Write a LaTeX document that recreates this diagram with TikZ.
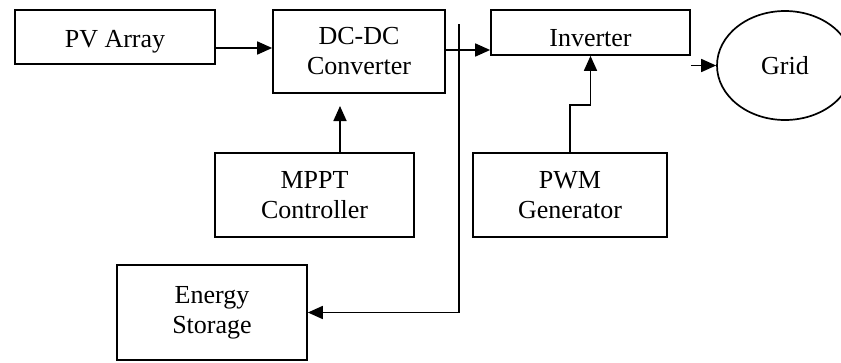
\documentclass[tikz,border=0pt]{standalone}
\usepackage{fontspec}
\setmainfont{Liberation Serif}
\usetikzlibrary{arrows.meta,shapes.geometric}
\begin{document}
\begin{tikzpicture}[x=1pt,y=-1pt,
  every node/.style={font=\fontsize{26}{30}\selectfont},
  blk/.style={draw, line width=1.7pt, inner sep=0pt, align=center, fill=white},
  conn/.style={line width=1.7pt, -{Triangle[length=15pt,width=13pt]}}]
\useasboundingbox (0,0) rectangle (841,362);
\clip (0,0) rectangle (841,362);
\fill[white] (0,0) rectangle (841,362);

\node[blk, minimum width=200pt, minimum height=54pt, text height=20pt, text depth=0pt] (pv) at (115,37) {PV Array};
\node[blk, minimum width=172pt, minimum height=83pt] (dc) at (359,51.5) {DC-DC\\Converter};
\node[blk, minimum width=199pt, minimum height=45pt, text height=27pt, text depth=0pt] (inv) at (590.5,32.5) {Inverter};
\node[draw, line width=1.7pt, ellipse, minimum width=136pt, minimum height=109pt, inner sep=0pt] (grid) at (785,65.5) {Grid};
\node[blk, minimum width=199pt, minimum height=84pt] (mppt) at (314.5,195) {MPPT\\Controller};
\node[blk, minimum width=194pt, minimum height=84pt] (pwm) at (570,195) {PWM\\Generator};
\node[blk, minimum width=190pt, minimum height=95pt] (es) at (212,312.5) {Energy\\Storage};

\coordinate (bus) at (459,24);

\draw[conn] (pv.east |- 0,48) -- (dc.west |- 0,48);
\draw[conn] (dc.east |- 0,50) -- (inv.west |- 0,50);
\draw[conn] (inv.east |- grid.west) -- (grid.west);
\draw[conn] (mppt.north -| 340,0) -- (340,106);
\draw[conn] (pwm.north) -- (pwm.north |- 0,105) -| (inv.south);
\draw[conn] (bus) |- (es.east);
\end{tikzpicture}
\end{document}
